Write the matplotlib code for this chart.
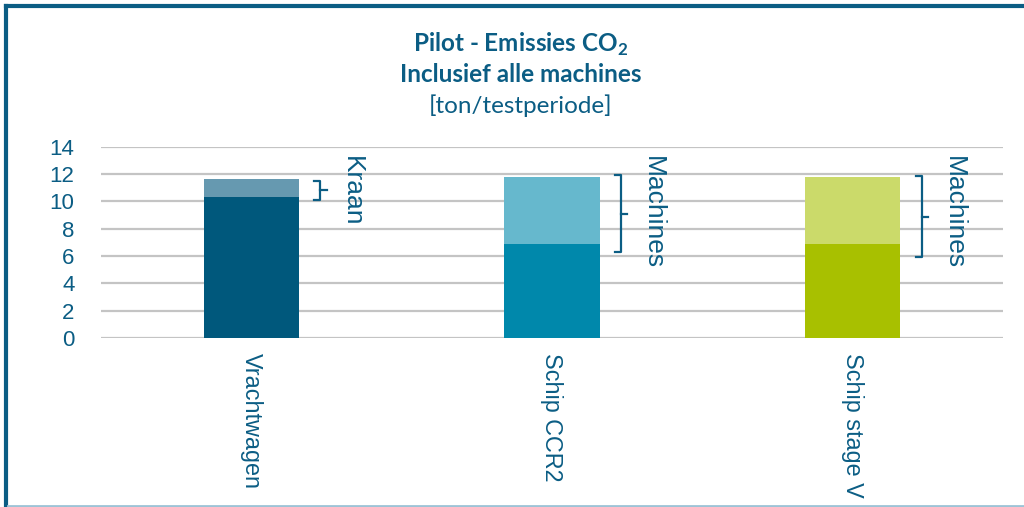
import matplotlib.pyplot as plt
from matplotlib.lines import Line2D

# data
categories = ["Vrachtwagen", "Schip CCR2", "Schip stage V"]
base = [10.35, 6.9, 6.9]
extra = [1.3, 4.9, 4.9]
base_colors = ["#00587c", "#0088ab", "#a8c000"]
extra_colors = ["#6699b0", "#66b8cd", "#cbda6a"]
bracket_labels = ["Kraan", "Machines", "Machines"]
bracket_lo = [10.1, 6.3, 5.9]
bracket_hi = [11.5, 11.9, 11.85]
yticks = [0, 2, 4, 6, 8, 10, 12, 14]

txt_color = "#0b5d84"
plt.rcParams['mathtext.fontset'] = 'custom'
plt.rcParams['mathtext.bf'] = 'Lato:bold'
plt.rcParams['mathtext.rm'] = 'Lato:bold'

fig = plt.figure(figsize=(10.24, 5.07), dpi=100)
ax = fig.add_axes([101 / 1024, 1 - 338 / 507, 902 / 1024, (338 - 146.7) / 507])

x = list(range(len(categories)))
ax.bar(x, base, width=0.316, color=base_colors, zorder=3)
ax.bar(x, extra, bottom=base, width=0.316, color=extra_colors, zorder=3)

ax.set_xlim(-0.5, 2.5)
ax.set_ylim(0, 14)
ax.set_yticks(yticks)
ax.set_xticks(x)
ax.set_xticklabels(categories, rotation=270, fontsize=16.8, color=txt_color,
                   family='Liberation Sans')
ax.tick_params(axis='x', length=0, pad=11)
ax.tick_params(axis='y', length=0, pad=19, labelsize=16, labelcolor=txt_color)
for lab in ax.get_yticklabels():
    lab.set_family('Liberation Sans')
ax.grid(axis='y', color='#c4c4c4', linewidth=1.6, zorder=0)
for s in ax.spines.values():
    s.set_visible(False)

# brackets + labels
for i in x:
    lo, hi = bracket_lo[i], bracket_hi[i]
    mid = (lo + hi) / 2
    xa, xv, xt = i + 0.21, i + 0.23, i + 0.25
    ax.plot([xa, xv, xv, xa], [hi, hi, lo, lo], color=txt_color, lw=1.6,
            zorder=4, clip_on=False)
    ax.plot([xv, xt], [mid, mid], color=txt_color, lw=1.6, zorder=4)
    ax.text(i + 0.335, 13.3, bracket_labels[i], rotation=270, ha='center',
            va='top', fontsize=19, color=txt_color, family='Liberation Sans')

# title
fig.text(521 / 1024, 1 - 44 / 507, r"Pilot - Emissies CO$_\mathbf{2}$", ha='center',
         va='center', fontsize=17.5, fontweight='bold', color=txt_color, family='Lato')
fig.text(521 / 1024, 1 - 75 / 507, "Inclusief alle machines", ha='center',
         va='center', fontsize=17.5, fontweight='bold', color=txt_color, family='Lato')
fig.text(521 / 1024, 1 - 106 / 507, "[ton/testperiode]", ha='center',
         va='center', fontsize=17.5, color=txt_color, family='Lato')

# frame
fig.add_artist(Line2D([6 / 1024, 1], [1 - 6 / 507, 1 - 6 / 507], color='#0b5d84', lw=3))
fig.add_artist(Line2D([6 / 1024, 6 / 1024], [0, 1 - 6 / 507], color='#0b5d84', lw=3))
fig.add_artist(Line2D([8 / 1024, 1], [1.5 / 507, 1.5 / 507], color='#9dc3d6', lw=2))

fig.savefig("out.png", dpi=100)
